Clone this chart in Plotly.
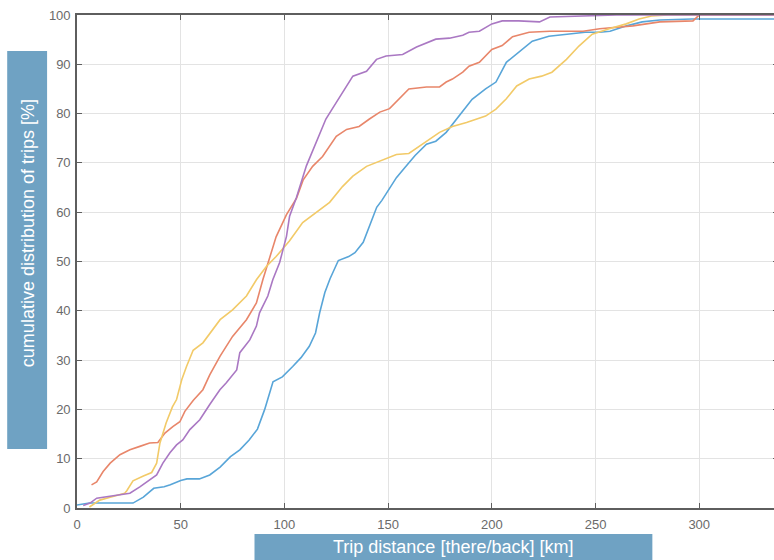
import plotly.graph_objects as go

# ---- data ----
blue_x = [0, 6, 15, 27, 32, 37, 42, 45, 50, 53, 59, 64, 69, 74, 78.5, 83, 87, 90.5, 94.5, 97, 99,
          104, 108, 112, 115, 117, 119.5, 122, 126, 131, 134, 138, 141, 144.5, 147, 150.5, 154, 158,
          163, 168.5, 173, 178, 184, 190.5, 197, 202, 207, 213, 219.5, 227.5, 236, 245, 252, 257,
          265, 272.5, 281, 296.5, 340]
blue_y = [0.6, 1, 1, 1, 2.2, 4, 4.3, 4.7, 5.6, 5.9, 5.9, 6.7, 8.3, 10.4, 11.8, 13.8, 16, 20, 25.6,
          26.2, 26.6, 28.7, 30.5, 32.8, 35.5, 39.6, 43.7, 46.5, 50.2, 51, 51.8, 53.9, 57, 61, 62.4,
          64.6, 67, 69, 71.5, 73.8, 74.4, 76.2, 79.5, 82.9, 85, 86.4, 90.4, 92.5, 94.7, 95.7, 96.1,
          96.5, 96.5, 96.7, 97.8, 98.6, 99, 99.2, 99.2]

orange_x = [7, 9.5, 12.6, 16, 20.7, 25.5, 30.3, 35, 39, 42.4, 46.2, 49.6, 52, 56, 60.7, 64, 69, 75,
            81.7, 86.5, 89.6, 93, 96, 101, 105.8, 109, 113.6, 118.4, 125, 130, 136, 141, 146, 150.7,
            155.5, 160, 168.5, 174.8, 178, 181, 186, 189, 194, 200, 205, 210, 218, 228, 244, 252,
            268, 281, 297, 300, 340]
orange_y = [4.7, 5.3, 7.4, 9.1, 10.8, 11.8, 12.5, 13.2, 13.3, 15.2, 16.5, 17.5, 19.6, 21.8, 24, 27,
            30.8, 34.8, 38.2, 41.6, 46.3, 51, 55, 59.5, 62.8, 66.5, 69.3, 71.3, 75.4, 76.8, 77.4,
            78.9, 80.3, 81, 83, 85, 85.4, 85.4, 86.4, 87, 88.4, 89.6, 90.4, 93, 93.8, 95.6, 96.5,
            96.7, 96.7, 97.2, 97.8, 98.6, 98.8, 100, 100]

yellow_x = [6, 11, 16, 23, 24, 27, 32, 36, 38.4, 40, 43, 46, 48, 50.5, 52.8, 56, 60.7, 65.5, 69, 75,
            81.7, 86.5, 91.3, 96, 102.5, 108.8, 115.4, 121.8, 128, 133, 139.6, 146, 154, 160,
            166.6, 174.8, 181, 187.8, 197, 202, 207, 212, 218, 224, 229, 236, 242, 248.4, 256.6,
            264.8, 271, 277, 285, 340]
yellow_y = [0.2, 1.6, 2.2, 3, 3.5, 5.5, 6.5, 7.2, 9.1, 13.2, 17.3, 20.5, 22, 26, 28.7, 32, 33.5,
            36.2, 38.2, 40.2, 43, 46.3, 49, 51, 54.2, 57.9, 60, 62, 65.2, 67.3, 69.3, 70.3, 71.7,
            71.9, 73.8, 76.2, 77.4, 78.2, 79.5, 80.9, 83, 85.6, 87, 87.6, 88.4, 91, 93.7, 96.1,
            97.2, 98.2, 99.2, 99.8, 100, 100]

purple_x = [3, 6.3, 9.5, 14.3, 20.7, 25.5, 30.3, 35, 38.4, 41.4, 44.8, 48, 51, 54.4, 59.2, 64, 68.9,
            72, 77, 78.5, 83.3, 86.5, 88, 92, 94.4, 97.7, 99.2, 101, 102.5, 105.8, 110.6, 115.4,
            120, 123, 128, 133, 139.6, 144.4, 149, 157, 163.7, 170, 173, 179.6, 186, 189, 194, 200,
            205, 213, 223, 228, 244, 260, 340]
purple_y = [0.5, 1, 2, 2.3, 2.6, 3, 4.3, 5.7, 6.7, 9.1, 11.2, 12.8, 13.8, 15.9, 17.9, 21, 24, 25.4,
            28, 31.5, 34.1, 36.9, 39.6, 43, 46.3, 49.8, 52.4, 55.1, 59.2, 63, 69.4, 74.2, 78.9,
            80.9, 84.3, 87.6, 88.6, 91, 91.7, 92, 93.5, 94.5, 95.1, 95.3, 95.9, 96.5, 96.7, 98.2,
            98.8, 98.8, 98.6, 99.6, 99.8, 100, 100]

x_ticks = [0, 50, 100, 150, 200, 250, 300]
y_ticks = [0, 10, 20, 30, 40, 50, 60, 70, 80, 90, 100]

x_title = "Trip distance [there/back] [km]"
y_title = "cumulative distribution of trips [%]"

series = [
    (blue_x, blue_y, "#58a5d8"),
    (orange_x, orange_y, "#e8866a"),
    (yellow_x, yellow_y, "#f2ca68"),
    (purple_x, purple_y, "#aa78c3"),
]

fig = go.Figure()
for xs, ys, col in series:
    fig.add_trace(go.Scatter(x=xs, y=ys, mode="lines",
                             line=dict(color=col, width=1.6), showlegend=False,
                             hoverinfo="skip"))

# figure slightly wider than the window so the right frame falls outside (cropped as in reference)
W, H = 780, 560
L, R, T, B = 77, 0, 15, 52
pw, ph = W - L - R, H - T - B


def px_x(p):
    return (p - L) / pw


def px_y(p):
    return (H - B - p) / ph


box_col = "#6fa2c3"
fig.update_layout(
    width=W, height=H,
    margin=dict(l=L, r=R, t=T, b=B, pad=0),
    paper_bgcolor="white", plot_bgcolor="white",
    font=dict(family="Liberation Sans, Arial, sans-serif"),
    xaxis=dict(range=[0, pw / 2.08], tickvals=x_ticks, ticktext=[str(v) for v in x_ticks],
               showgrid=True, gridcolor="#e3e3e3", gridwidth=1,
               zeroline=False, showline=True, linecolor="#5e5e5e", linewidth=1.6,
               mirror="ticks", ticks="inside", ticklen=5, tickwidth=1.4, tickcolor="#5e5e5e",
               tickfont=dict(size=13, color="#6a6a6a"), ticklabelstandoff=4),
    yaxis=dict(range=[0, 100], tickvals=y_ticks, ticktext=[str(v) for v in y_ticks],
               showgrid=True, gridcolor="#e3e3e3", gridwidth=1,
               zeroline=False, showline=True, linecolor="#5e5e5e", linewidth=1.6,
               mirror="ticks", ticks="inside", ticklen=5, tickwidth=1.4, tickcolor="#5e5e5e",
               tickfont=dict(size=13, color="#6a6a6a"), ticklabelstandoff=2),
    shapes=[
        dict(type="rect", xref="paper", yref="paper", layer="above",
             x0=px_x(7), x1=px_x(47), y0=px_y(449), y1=px_y(51),
             fillcolor=box_col, line=dict(width=0)),
        dict(type="rect", xref="paper", yref="paper", layer="above",
             x0=px_x(255), x1=px_x(654), y0=px_y(562), y1=px_y(534),
             fillcolor=box_col, line=dict(width=0)),
    ],
    annotations=[
        dict(text=y_title, xref="paper", yref="paper", x=px_x(28), y=px_y(233),
             xanchor="center", yanchor="middle", textangle=-90, showarrow=False,
             font=dict(size=18, color="white")),
        dict(text=x_title, xref="paper", yref="paper", x=px_x(454), y=px_y(547),
             xanchor="center", yanchor="middle", showarrow=False,
             font=dict(size=18, color="white")),
    ],
)

fig.write_html("out.html", config={"displayModeBar": False},
               post_script="document.body.style.margin='0';document.body.style.overflow='hidden';")
